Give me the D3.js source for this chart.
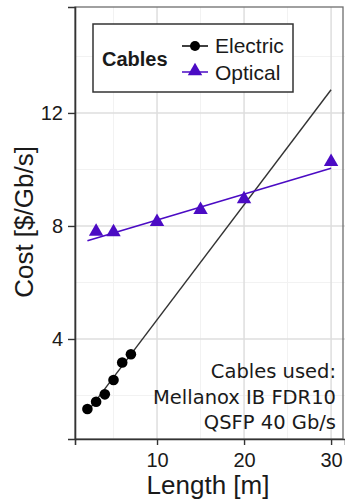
<!DOCTYPE html>
<html>
<head>
<style>
    body { margin: 0; background: #fff; }
    text { font-family: "Liberation Sans", Arial, sans-serif; fill: #1a1a1a; }
    .note { font-family: "DejaVu Sans", sans-serif; font-size: 19.5px; }
</style>
</head>
<body>
    <svg id="chart" width="345" height="501"></svg>
</body>
<script src="https://d3js.org/d3.v7.min.js"></script>
<script>
    // values
    let electricLength = [2, 3, 4, 5, 6, 7];
    let electricCost = [1.52, 1.78, 2.04, 2.55, 3.17, 3.46];
    let opticalLength = [3, 5, 10, 15, 20, 30];
    let opticalCost = [7.8, 7.78, 8.15, 8.57, 8.95, 10.27];
    // end points of the fitted lines
    let electricFit = [[2, 1.42], [30, 12.82]];
    let opticalFit = [[2, 7.48], [30, 10.04]];
    let xTicks = [10, 20, 30];
    let xMinor = [5, 15, 25];
    let yTicks = [4, 8, 12];
    let yMinor = [2, 6, 10, 14];
    let noteLines = ["Cables used:", "Mellanox IB FDR10", "QSFP 40 Gb/s"];

    let purple = "#4b0bc4";
    let svg = d3.select("#chart");
    let pLeft = 75, pRight = 345, pTop = 7, pBottom = 439;

    let x = d3.scaleLinear().domain([0.575, 31.6]).range([pLeft, pRight]);
    let y = d3.scaleLinear().domain([0.46, 15.75]).range([pBottom, pTop]);

    // grid
    let grid = svg.append("g");
    grid.selectAll(".vminor").data(xMinor).enter().append("line")
        .attr("x1", d => x(d)).attr("x2", d => x(d)).attr("y1", pTop).attr("y2", pBottom)
        .attr("stroke", "#f2f2f2").attr("stroke-width", 1);
    grid.selectAll(".hminor").data(yMinor).enter().append("line")
        .attr("y1", d => y(d)).attr("y2", d => y(d)).attr("x1", pLeft).attr("x2", pRight)
        .attr("stroke", "#f2f2f2").attr("stroke-width", 1);
    grid.selectAll(".vmajor").data(xTicks).enter().append("line")
        .attr("x1", d => x(d)).attr("x2", d => x(d)).attr("y1", pTop).attr("y2", pBottom)
        .attr("stroke", "#dedede").attr("stroke-width", 1.5);
    grid.selectAll(".hmajor").data(yTicks).enter().append("line")
        .attr("y1", d => y(d)).attr("y2", d => y(d)).attr("x1", pLeft).attr("x2", pRight)
        .attr("stroke", "#dedede").attr("stroke-width", 1.5);

    // panel border
    svg.append("rect")
        .attr("x", pLeft).attr("y", pTop).attr("width", pRight - pLeft - 2).attr("height", pBottom - pTop)
        .attr("fill", "none").attr("stroke", "#6e6e6e").attr("stroke-width", 1.3);

    // axes
    let xAxis = svg.append("g")
        .attr("transform", "translate(0," + pBottom + ")")
        .call(d3.axisBottom(x).tickValues(xTicks).tickSize(6).tickPadding(8));
    let yAxis = svg.append("g")
        .attr("transform", "translate(" + pLeft + ",0)")
        .call(d3.axisLeft(y).tickValues(yTicks).tickSize(7).tickPadding(5));
    [xAxis, yAxis].forEach(a => {
        a.select(".domain").attr("stroke", "#333").attr("stroke-width", 1.6);
        a.selectAll(".tick line").attr("stroke", "#333").attr("stroke-width", 1.4);
        a.selectAll(".tick text").attr("font-size", "20px")
            .attr("font-family", "Liberation Sans, Arial, sans-serif").attr("fill", "#1a1a1a");
    });

    // fit lines
    let line = d3.line().x(d => x(d[0])).y(d => y(d[1]));
    svg.append("path").datum(electricFit).attr("d", line)
        .attr("fill", "none").attr("stroke", "#333").attr("stroke-width", 1.4);
    svg.append("path").datum(opticalFit).attr("d", line)
        .attr("fill", "none").attr("stroke", purple).attr("stroke-width", 1.6);

    // points
    svg.selectAll(".edot").data(electricLength).enter().append("circle")
        .attr("cx", d => x(d)).attr("cy", (d, i) => y(electricCost[i]))
        .attr("r", 5.3).attr("fill", "#000");
    let tri = d3.symbol().type(d3.symbolTriangle).size(90);
    svg.selectAll(".otri").data(opticalLength).enter().append("path")
        .attr("d", tri)
        .attr("transform", (d, i) => "translate(" + x(d) + "," + y(opticalCost[i]) + ")")
        .attr("fill", purple);

    // axis titles
    svg.append("text").attr("x", 208).attr("y", 494).attr("text-anchor", "middle")
        .attr("font-size", "26px").text("Length [m]");
    svg.append("text").attr("transform", "translate(33,222) rotate(-90)")
        .attr("text-anchor", "middle").attr("font-size", "26px").text("Cost [$/Gb/s]");

    // legend
    let lg = svg.append("g");
    lg.append("rect").attr("x", 93).attr("y", 24).attr("width", 200).attr("height", 68)
        .attr("fill", "#fff").attr("stroke", "#333").attr("stroke-width", 1.5);
    lg.append("text").attr("x", 102).attr("y", 66).attr("font-size", "20px")
        .attr("font-weight", "bold").text("Cables");
    lg.append("line").attr("x1", 182).attr("x2", 208).attr("y1", 46).attr("y2", 46)
        .attr("stroke", "#000").attr("stroke-width", 1.5);
    lg.append("circle").attr("cx", 195).attr("cy", 46).attr("r", 5).attr("fill", "#000");
    lg.append("text").attr("x", 215).attr("y", 53).attr("font-size", "21px").text("Electric");
    lg.append("line").attr("x1", 182).attr("x2", 208).attr("y1", 72).attr("y2", 72)
        .attr("stroke", purple).attr("stroke-width", 1.5);
    lg.append("path").attr("d", tri).attr("transform", "translate(195,71)").attr("fill", purple);
    lg.append("text").attr("x", 215).attr("y", 80).attr("font-size", "21px").text("Optical");

    // note
    svg.selectAll(".note").data(noteLines).enter().append("text")
        .attr("class", "note").attr("x", 336).attr("y", (d, i) => 378 + i * 25.5)
        .attr("text-anchor", "end").text(d => d);
</script>
</html>
